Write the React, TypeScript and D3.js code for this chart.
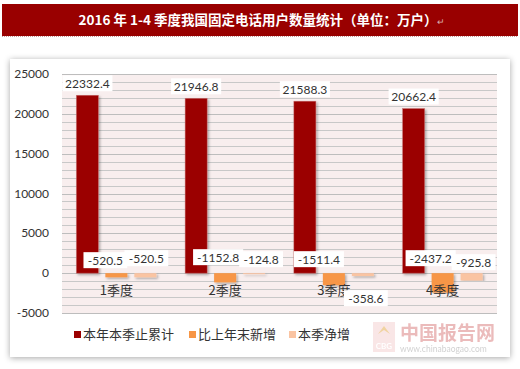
import React from 'react';
import * as d3 from 'd3';

// quarters and the three series (万户)
const quarters = ['1季度', '2季度', '3季度', '4季度'];
const seriesNames = ['本年本季止累计', '比上年末新增', '本季净增'];
const cumulative = [22332.4, 21946.8, 21588.3, 20662.4];
const sinceLastYear = [-520.5, -1152.8, -1511.4, -2437.2];
const quarterNet = [-520.5, -124.8, -358.6, -925.8];
const yTicks = [-5000, 0, 5000, 10000, 15000, 20000, 25000];

const seriesValues = [cumulative, sinceLastYear, quarterNet];
const colors = ['#9b0000', '#f79646', '#fac4a2'];

// manual label nudges for the negative bars [dx, dy from zero line]
const labelNudge = [
  null,
  [[-11, -13], [-7, -16], [-15, -14], [-12, -15]],
  [[1, -15], [7, -14], [3, 25], [2, -11]],
];

const W = 520;
const H = 369;
const plot = { left: 62, right: 497, top: 74, bottom: 313 };
const numFont = 'Lato, "Noto Sans", sans-serif';
const cjkFont = '"Noto Sans CJK SC", sans-serif';

const App = () => {
  const y = d3.scaleLinear().domain([-5000, 25000]).range([plot.bottom, plot.top]);
  const x0 = d3.scaleBand<string>().domain(quarters).range([plot.left, plot.right]);
  const x1 = d3.scaleBand<number>().domain([0, 1, 2]).range([0, 80]).paddingInner(0.24);
  const groupStart = (q: string) => (x0(q) as number) + (x0.bandwidth() - 80) / 2;
  const grid = d3.range(-5000, 25001, 1000);

  const labels: { x: number; y: number; text: string }[] = [];
  seriesValues.forEach((vals, s) => {
    vals.forEach((v, i) => {
      const cx = groupStart(quarters[i]) + (x1(s) as number) + x1.bandwidth() / 2;
      if (v >= 0) {
        labels.push({ x: cx, y: y(v) - 12, text: v.toFixed(1) });
      } else {
        const n = labelNudge[s]![i];
        labels.push({ x: cx + n[0], y: y(0) + n[1], text: v.toFixed(1) });
      }
    });
  });

  return (
    <div style={{ position: 'absolute', left: 0, top: 0 }}>
      <svg width={W} height={H} style={{ display: 'block' }}>
        <defs>
          <filter id="panelShadow" x="-5%" y="-5%" width="110%" height="110%">
            <feDropShadow dx="0" dy="1" stdDeviation="3" floodColor="#000" floodOpacity="0.35" />
          </filter>
          <filter id="barShadow" x="-30%" y="-5%" width="160%" height="110%">
            <feDropShadow dx="1.5" dy="1.5" stdDeviation="1.2" floodColor="#000" floodOpacity="0.3" />
          </filter>
        </defs>
        <rect width={W} height={H} fill="#fff" />

        {/* title bar */}
        <rect x={2} y={4} width={516} height={32} fill="#990000" />
        <line x1={2} x2={518} y1={36.5} y2={36.5} stroke="#c9a0a0" strokeDasharray="1,1" />
        <text x={262} y={25} textAnchor="middle" fill="#fff" fontSize={13.5} fontWeight="bold"
          fontFamily={cjkFont}>
          2016 年 1-4 季度我国固定电话用户数量统计（单位：万户）
          <tspan fill="#d8b0b0" fontSize={9} fontWeight="normal">↵</tspan>
        </text>

        {/* chart panel */}
        <rect x={10} y={59} width={500} height={298} fill="#fff" filter="url(#panelShadow)" />

        {/* plot area */}
        <rect x={plot.left} y={plot.top} width={plot.right - plot.left} height={plot.bottom - plot.top}
          fill="#f8eeee" />
        {grid.map((g) => (
          <line key={g} x1={plot.left} x2={plot.right} y1={Math.round(y(g)) + 0.5} y2={Math.round(y(g)) + 0.5}
            stroke={g % 5000 === 0 ? '#bdbdbd' : '#c8c8c8'} strokeWidth={1} />
        ))}

        {/* y ticks */}
        {yTicks.map((t) => (
          <text key={t} x={49} y={y(t) + 4} textAnchor="end" fontSize={12} fill="#333"
            fontFamily={numFont}>{t}</text>
        ))}

        {/* bars */}
        {seriesValues.map((vals, s) => (
          <g key={s} fill={colors[s]} filter="url(#barShadow)">
            {vals.map((v, i) => {
              const bx = groupStart(quarters[i]) + (x1(s) as number);
              const top = y(Math.max(0, v));
              const h = Math.abs(y(v) - y(0));
              return <rect key={i} x={bx} y={top} width={x1.bandwidth()} height={h}
                stroke={s === 0 ? '#c87070' : 'none'} strokeWidth={0.5} />;
            })}
          </g>
        ))}

        {/* category labels */}
        {quarters.map((q) => (
          <text key={q} x={(x0(q) as number) + x0.bandwidth() / 2} y={295} textAnchor="middle"
            fontSize={13} fill="#333" fontFamily={cjkFont}>{q}</text>
        ))}

        {/* data labels */}
        {labels.map((l, i) => {
          const w = l.text.length * 6.3 + 6;
          return (
            <g key={i}>
              <rect x={l.x - w / 2} y={l.y - 8} width={w} height={16} fill="#fff" />
              <text x={l.x} y={l.y + 4.5} textAnchor="middle" fontSize={12} fill="#333"
                fontFamily={numFont}>{l.text}</text>
            </g>
          );
        })}

        {/* legend */}
        {seriesNames.map((name, s) => {
          const lx = [74, 189, 289][s];
          return (
            <g key={name}>
              <rect x={lx} y={331} width={7} height={7} fill={colors[s]} />
              <text x={lx + 9} y={339} fontSize={13} fill="#333" fontFamily={cjkFont}>{name}</text>
            </g>
          );
        })}

        {/* watermark */}
        <g opacity={0.45}>
          <rect x={373} y={322} width={22} height={30} fill="#f3c8c8" />
          <text x={384} y={349} textAnchor="middle" fontSize={8} fill="#fff" fontWeight="bold"
            fontFamily={numFont}>CBG</text>
          <path d="M378,334 L384,326 L390,334 L384,330 Z" fill="#e0a030" />
          <text x={400} y={340} fontSize={19} fill="#d46a6a" fontWeight="bold"
            fontFamily={cjkFont}>中国报告网</text>
          <text x={400} y={352} fontSize={8.5} fill="#999" fontFamily={numFont}>www.chinabaogao.com</text>
        </g>
      </svg>
    </div>
  );
};

export default App;
